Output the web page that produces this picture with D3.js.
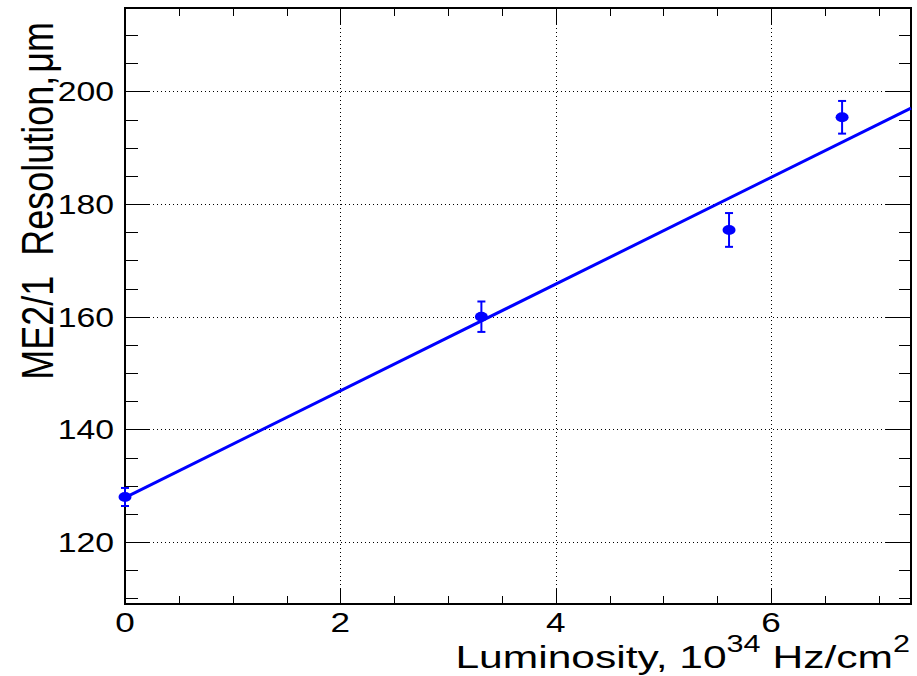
<!DOCTYPE html>
<html>
<head>
<meta charset="utf-8">
<script src="https://cdn.jsdelivr.net/npm/d3@7"></script>
<style>
  html, body { margin: 0; padding: 0; background: #fff; }
  svg { display: block; }
  text { font-family: "Liberation Sans", Arial, Helvetica, sans-serif; fill: #000; white-space: pre; }
</style>
</head>
<body>
<svg id="chart" width="917" height="676"></svg>
<script>
// Measured resolution vs. instantaneous luminosity
const luminosity = [0, 3.31, 5.61, 6.66];
const resolution = [128.0, 160.0, 175.4, 195.4];
const resolutionErr = [1.6, 2.7, 3.0, 2.9];

// Linear fit: resolution = fitIntercept + fitSlope * luminosity
const fitIntercept = 127.9;
const fitSlope = 9.47;

const xTicks = [0, 2, 4, 6];
const yTicks = [120, 140, 160, 180, 200];
const xDomain = [0, 7.3];
const yDomain = [109, 214.8];

const m = { left: 125, right: 911, top: 8, bottom: 604 };
const STRETCH = 1.3;          // horizontal glyph stretch of the canvas fonts
const blue = "#0000ff";

const svg = d3.select("#chart");
const x = d3.scaleLinear().domain(xDomain).range([m.left, m.right]);
const y = d3.scaleLinear().domain(yDomain).range([m.bottom, m.top]);

// dotted grid at major ticks
const grid = svg.append("g").attr("stroke", "#000").attr("stroke-width", 1)
  .attr("stroke-dasharray", "1,3");
grid.selectAll(".gx").data(xTicks.filter(d => d > xDomain[0])).join("line")
  .attr("x1", d => Math.round(x(d)) + 0.5).attr("x2", d => Math.round(x(d)) + 0.5)
  .attr("y1", m.top).attr("y2", m.bottom);
grid.selectAll(".gy").data(yTicks).join("line")
  .attr("y1", d => Math.round(y(d)) + 0.5).attr("y2", d => Math.round(y(d)) + 0.5)
  .attr("x1", m.left).attr("x2", m.right);

// axes with major and minor ticks on all four sides
const xMinor = d3.range(0, 7.3001, 0.5);
const yMinor = d3.range(110, 214.8, 5);

const ticks = svg.append("g").attr("stroke", "#000").attr("stroke-width", 1);
// bottom and top
ticks.selectAll(".bx").data(xMinor).join("line")
  .attr("x1", d => Math.round(x(d)) + 0.5).attr("x2", d => Math.round(x(d)) + 0.5)
  .attr("y1", m.bottom).attr("y2", d => m.bottom - (xTicks.includes(d) ? 16 : 8));
ticks.selectAll(".tx").data(xMinor).join("line")
  .attr("x1", d => Math.round(x(d)) + 0.5).attr("x2", d => Math.round(x(d)) + 0.5)
  .attr("y1", m.top).attr("y2", d => m.top + (xTicks.includes(d) ? 16 : 8));
// left and right
ticks.selectAll(".ly").data(yMinor).join("line")
  .attr("y1", d => Math.round(y(d)) + 0.5).attr("y2", d => Math.round(y(d)) + 0.5)
  .attr("x1", m.left).attr("x2", d => m.left + (yTicks.includes(d) ? 25 : 13));
ticks.selectAll(".ry").data(yMinor).join("line")
  .attr("y1", d => Math.round(y(d)) + 0.5).attr("y2", d => Math.round(y(d)) + 0.5)
  .attr("x1", m.right).attr("x2", d => m.right - (yTicks.includes(d) ? 25 : 12));

// frame
svg.append("rect")
  .attr("x", m.left).attr("y", m.top)
  .attr("width", m.right - m.left).attr("height", m.bottom - m.top)
  .attr("fill", "none").attr("stroke", "#000").attr("stroke-width", 2);

// tick labels
svg.append("g").selectAll("text").data(xTicks).join("text")
  .attr("transform", d => `translate(${x(d)},632) scale(${STRETCH},1)`)
  .attr("text-anchor", "middle").attr("font-size", 27)
  .text(d => d);
svg.append("g").selectAll("text").data(yTicks).join("text")
  .attr("transform", d => `translate(114,${y(d) + 10}) scale(${STRETCH - 0.05},1)`)
  .attr("text-anchor", "end").attr("font-size", 27)
  .text(d => d);

// axis titles
const xt = svg.append("text")
  .attr("transform", `translate(910,668) scale(${STRETCH + 0.03},1)`)
  .attr("text-anchor", "end").attr("font-size", 32);
xt.append("tspan").text("Luminosity, 10");
xt.append("tspan").attr("font-size", 23).attr("dy", -16).text("34");
xt.append("tspan").attr("dy", 16).text(" Hz/cm");
xt.append("tspan").attr("font-size", 23).attr("dy", -16).text("2");

const yt = svg.append("text")
  .attr("transform", `translate(53,22) scale(${STRETCH - 0.05},1) rotate(-90)`)
  .attr("text-anchor", "end").attr("font-size", 36);
yt.append("tspan").text("ME2/1  Resolution,");
yt.append("tspan").attr("dx", 3).text("μm");

// fit line
svg.append("line")
  .attr("x1", x(xDomain[0])).attr("y1", y(fitIntercept + fitSlope * xDomain[0]))
  .attr("x2", x(xDomain[1])).attr("y2", y(fitIntercept + fitSlope * xDomain[1]))
  .attr("stroke", blue).attr("stroke-width", 3);

// data points with error bars
const pts = luminosity.map((l, i) => ({ l, r: resolution[i], e: resolutionErr[i] }));
const pg = svg.append("g").attr("stroke", blue).attr("stroke-width", 2);
pg.selectAll(".eb").data(pts).join("line")
  .attr("x1", d => x(d.l)).attr("x2", d => x(d.l))
  .attr("y1", d => y(d.r - d.e)).attr("y2", d => y(d.r + d.e));
pg.selectAll(".capLo").data(pts).join("line")
  .attr("x1", d => x(d.l) - 4).attr("x2", d => x(d.l) + 4)
  .attr("y1", d => y(d.r - d.e)).attr("y2", d => y(d.r - d.e));
pg.selectAll(".capHi").data(pts).join("line")
  .attr("x1", d => x(d.l) - 4).attr("x2", d => x(d.l) + 4)
  .attr("y1", d => y(d.r + d.e)).attr("y2", d => y(d.r + d.e));
svg.append("g").selectAll("ellipse").data(pts).join("ellipse")
  .attr("cx", d => x(d.l)).attr("cy", d => y(d.r))
  .attr("rx", 6.5).attr("ry", 5).attr("fill", blue);
</script>
</body>
</html>
